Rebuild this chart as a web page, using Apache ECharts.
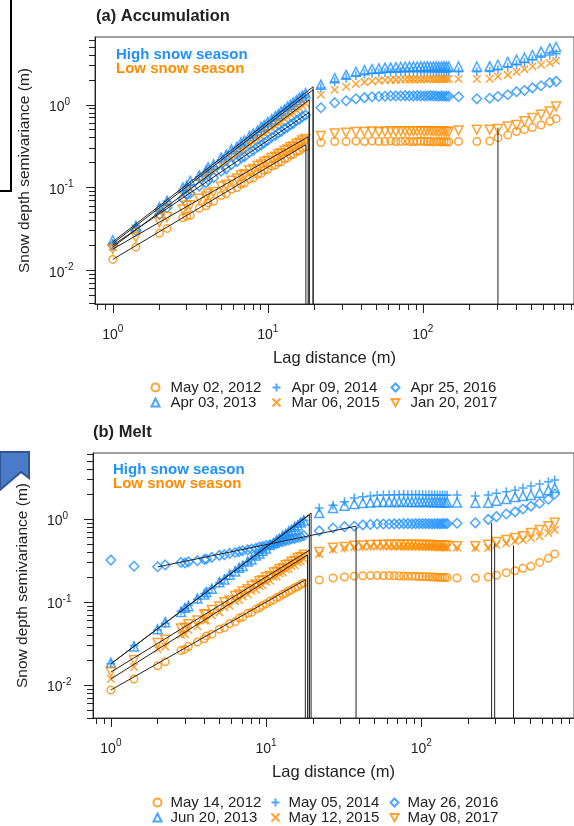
<!DOCTYPE html>
<html>
<head>
<meta charset="utf-8">
<script src="https://cdn.jsdelivr.net/npm/echarts@6/dist/echarts.min.js"></script>
<style>
  html, body { margin: 0; padding: 0; background: #ffffff; }
  #chart { width: 574px; height: 826px; }
</style>
</head>
<body>
<div id="chart"></div>
<script>
// Lag distances (m) shared by every semivariogram
const lags = [1, 1.41, 2, 2.24, 2.83, 3, 3.16, 3.61, 4, 4.12, 4.47, 5, 5.39, 5.83, 6.32, 6.71, 7.07, 7.62, 8.06, 8.6,
  9.06, 9.49, 10, 10.6, 11.2, 11.7, 12.2, 12.8, 13.4, 14, 14.6, 15.3, 16, 16.7, 17.5,
  22, 27, 32, 37, 42, 47, 52, 57, 62, 67, 72, 77, 82, 87, 92, 97, 102, 107, 112, 117, 122, 127, 132, 137, 142, 147,
  170, 223, 270, 305, 353, 402, 452, 509, 579, 659, 724];

// (a) Accumulation - semivariance (m)
const accMay2012 = [0.0135, 0.019, 0.028, 0.032, 0.043, 0.045, 0.046, 0.056, 0.06, 0.065, 0.068, 0.08, 0.084, 0.095, 0.1, 0.11, 0.113, 0.127, 0.13, 0.145,
  0.148, 0.161, 0.166, 0.182, 0.187, 0.202, 0.205, 0.223, 0.228, 0.247, 0.25, 0.272, 0.278, 0.298, 0.31,
  0.35, 0.36, 0.36, 0.365, 0.36, 0.365, 0.36, 0.36, 0.365, 0.36, 0.36, 0.365, 0.36, 0.36, 0.36, 0.365, 0.36, 0.36, 0.36, 0.355, 0.36, 0.36, 0.355, 0.36, 0.355, 0.355,
  0.36, 0.36, 0.365, 0.40, 0.43, 0.475, 0.50, 0.53, 0.57, 0.63, 0.68];
const accApr2013 = [0.023, 0.034, 0.058, 0.069, 0.10, 0.105, 0.12, 0.14, 0.16, 0.175, 0.19, 0.23, 0.25, 0.29, 0.31, 0.35, 0.37, 0.42, 0.45, 0.49,
  0.54, 0.57, 0.62, 0.67, 0.73, 0.77, 0.83, 0.88, 0.95, 1.0, 1.07, 1.14, 1.22, 1.29, 1.38,
  1.75, 2.1, 2.3, 2.5, 2.62, 2.7, 2.75, 2.8, 2.82, 2.85, 2.86, 2.88, 2.9, 2.9, 2.9, 2.92, 2.9, 2.92, 2.9, 2.9, 2.92, 2.9, 2.9, 2.92, 2.9, 2.9,
  2.9, 2.9, 2.92, 3.05, 3.3, 3.5, 3.7, 4.0, 4.4, 4.8, 5.0];
const accApr2014 = [0.021, 0.035, 0.055, 0.068, 0.092, 0.103, 0.108, 0.135, 0.152, 0.163, 0.178, 0.215, 0.235, 0.268, 0.295, 0.327, 0.345, 0.392, 0.42, 0.465,
  0.495, 0.54, 0.57, 0.63, 0.67, 0.73, 0.76, 0.83, 0.87, 0.94, 0.98, 1.07, 1.12, 1.22, 1.28,
  1.6, 1.9, 2.1, 2.25, 2.35, 2.4, 2.42, 2.45, 2.47, 2.48, 2.5, 2.5, 2.5, 2.52, 2.5, 2.52, 2.5, 2.5, 2.52, 2.5, 2.5, 2.5, 2.52, 2.5, 2.5, 2.5,
  2.5, 2.5, 2.52, 2.65, 2.85, 3.05, 3.25, 3.5, 3.75, 4.0, 4.15];
const accMar2015 = [0.019, 0.031, 0.05, 0.06, 0.08, 0.09, 0.094, 0.117, 0.13, 0.14, 0.153, 0.183, 0.2, 0.226, 0.25, 0.276, 0.29, 0.33, 0.35, 0.39,
  0.41, 0.45, 0.47, 0.52, 0.55, 0.6, 0.62, 0.68, 0.71, 0.77, 0.8, 0.87, 0.91, 0.98, 1.04,
  1.32, 1.52, 1.65, 1.78, 1.88, 1.93, 1.96, 1.98, 2.0, 2.0, 2.02, 2.02, 2.03, 2.03, 2.04, 2.03, 2.05, 2.04, 2.05, 2.05, 2.04, 2.05, 2.05, 2.05, 2.04, 2.05,
  2.05, 2.05, 2.06, 2.2, 2.3, 2.5, 2.7, 2.9, 3.05, 3.2, 3.4];
const accApr2016 = [0.020, 0.03, 0.047, 0.057, 0.073, 0.082, 0.085, 0.104, 0.114, 0.123, 0.131, 0.157, 0.168, 0.19, 0.205, 0.227, 0.236, 0.266, 0.28, 0.31,
  0.325, 0.35, 0.37, 0.405, 0.425, 0.46, 0.475, 0.515, 0.535, 0.575, 0.595, 0.645, 0.67, 0.72, 0.75,
  0.92, 1.06, 1.12, 1.18, 1.22, 1.25, 1.26, 1.27, 1.28, 1.28, 1.28, 1.29, 1.28, 1.28, 1.29, 1.28, 1.28, 1.28, 1.29, 1.28, 1.28, 1.27, 1.28, 1.27, 1.27, 1.27,
  1.25, 1.18, 1.2, 1.26, 1.32, 1.44, 1.49, 1.6, 1.7, 1.85, 1.92];
const accJan2017 = [0.018, 0.025, 0.038, 0.044, 0.054, 0.06, 0.061, 0.073, 0.078, 0.084, 0.088, 0.103, 0.108, 0.121, 0.128, 0.14, 0.145, 0.16, 0.167, 0.182,
  0.189, 0.203, 0.21, 0.228, 0.236, 0.253, 0.26, 0.278, 0.287, 0.306, 0.314, 0.336, 0.347, 0.37, 0.385,
  0.42, 0.45, 0.46, 0.47, 0.47, 0.475, 0.47, 0.475, 0.48, 0.475, 0.48, 0.48, 0.475, 0.48, 0.48, 0.48, 0.475, 0.48, 0.48, 0.475, 0.48, 0.475, 0.475, 0.47, 0.475, 0.47,
  0.49, 0.5, 0.5, 0.51, 0.545, 0.57, 0.63, 0.69, 0.76, 0.83, 0.95];

// (b) Melt - semivariance (m)
const meltMay2012 = [0.0087, 0.0118, 0.017, 0.019, 0.026, 0.027, 0.029, 0.033, 0.036, 0.039, 0.041, 0.047, 0.049, 0.055, 0.058, 0.064, 0.066, 0.073, 0.075, 0.082,
  0.085, 0.091, 0.095, 0.102, 0.106, 0.113, 0.116, 0.124, 0.128, 0.136, 0.14, 0.149, 0.154, 0.163, 0.17,
  0.184, 0.195, 0.2, 0.205, 0.207, 0.208, 0.208, 0.207, 0.208, 0.207, 0.206, 0.206, 0.205, 0.205, 0.204, 0.203, 0.203, 0.202, 0.201, 0.2, 0.2, 0.199, 0.198, 0.198, 0.197, 0.197,
  0.195, 0.195, 0.2, 0.21, 0.226, 0.238, 0.255, 0.27, 0.3, 0.336, 0.38];
const meltJun2013 = [0.0185, 0.029, 0.047, 0.057, 0.076, 0.085, 0.089, 0.11, 0.123, 0.132, 0.144, 0.173, 0.187, 0.213, 0.233, 0.259, 0.272, 0.308, 0.325, 0.364,
  0.383, 0.416, 0.44, 0.485, 0.514, 0.556, 0.578, 0.63, 0.658, 0.712, 0.74, 0.805, 0.84, 0.91, 0.96,
  1.18, 1.36, 1.45, 1.52, 1.56, 1.58, 1.6, 1.6, 1.61, 1.6, 1.61, 1.62, 1.61, 1.6, 1.61, 1.6, 1.6, 1.61, 1.6, 1.6, 1.59, 1.6, 1.59, 1.59, 1.58, 1.58,
  1.58, 1.57, 1.57, 1.66, 1.74, 1.84, 1.9, 1.95, 2.07, 2.23, 2.36];
const meltMay2014 = [0.018, 0.03, 0.046, 0.055, 0.078, 0.083, 0.092, 0.108, 0.126, 0.129, 0.147, 0.17, 0.19, 0.21, 0.238, 0.255, 0.278, 0.303, 0.332, 0.358,
  0.39, 0.41, 0.448, 0.478, 0.522, 0.548, 0.588, 0.62, 0.668, 0.7, 0.752, 0.795, 0.855, 0.9, 0.97,
  1.36, 1.47, 1.62, 1.79, 1.86, 1.9, 1.93, 1.95, 1.95, 1.96, 1.96, 1.97, 1.96, 1.96, 1.97, 1.96, 1.96, 1.95, 1.96, 1.95, 1.95, 1.95, 1.94, 1.95, 1.94, 1.94,
  1.95, 1.9, 1.95, 2.05, 2.13, 2.23, 2.36, 2.5, 2.64, 2.81, 2.95];
const meltMay2015 = [0.0118, 0.0165, 0.027, 0.029, 0.04, 0.041, 0.046, 0.051, 0.06, 0.06, 0.069, 0.075, 0.086, 0.09, 0.103, 0.106, 0.117, 0.123, 0.137, 0.141,
  0.156, 0.159, 0.175, 0.18, 0.2, 0.203, 0.221, 0.226, 0.247, 0.25, 0.272, 0.278, 0.302, 0.308, 0.33,
  0.38, 0.43, 0.45, 0.46, 0.465, 0.47, 0.47, 0.468, 0.47, 0.465, 0.468, 0.465, 0.466, 0.465, 0.463, 0.465, 0.462, 0.462, 0.46, 0.46, 0.458, 0.458, 0.455, 0.456, 0.455, 0.455,
  0.455, 0.45, 0.45, 0.49, 0.51, 0.54, 0.56, 0.59, 0.62, 0.68, 0.74];
const meltMay2016 = [0.32, 0.27, 0.266, 0.28, 0.3, 0.295, 0.305, 0.315, 0.325, 0.33, 0.345, 0.365, 0.372, 0.385, 0.395, 0.405, 0.415, 0.425, 0.435, 0.445,
  0.46, 0.465, 0.48, 0.49, 0.505, 0.51, 0.525, 0.535, 0.55, 0.56, 0.575, 0.585, 0.6, 0.61, 0.63,
  0.72, 0.78, 0.81, 0.82, 0.85, 0.86, 0.87, 0.87, 0.87, 0.875, 0.875, 0.88, 0.88, 0.875, 0.88, 0.88, 0.88, 0.88, 0.88, 0.875, 0.88, 0.88, 0.875, 0.88, 0.88, 0.88,
  0.89, 0.9, 0.99, 1.07, 1.15, 1.22, 1.32, 1.43, 1.55, 1.73, 2.0];
const meltMay2017 = [0.0143, 0.02, 0.032, 0.035, 0.048, 0.049, 0.054, 0.06, 0.071, 0.07, 0.08, 0.088, 0.099, 0.104, 0.118, 0.123, 0.134, 0.142, 0.156, 0.163,
  0.178, 0.183, 0.199, 0.206, 0.227, 0.231, 0.249, 0.256, 0.277, 0.284, 0.305, 0.315, 0.338, 0.348, 0.372,
  0.40, 0.45, 0.46, 0.475, 0.48, 0.485, 0.488, 0.49, 0.49, 0.49, 0.492, 0.49, 0.49, 0.49, 0.488, 0.49, 0.488, 0.486, 0.486, 0.485, 0.484, 0.483, 0.482, 0.48, 0.48, 0.478,
  0.47, 0.47, 0.49, 0.53, 0.56, 0.59, 0.62, 0.68, 0.74, 0.82, 0.9];

// Power-law fits: [first lag, gamma at first lag, range, gamma at range]
const accFits = [[1, 0.0135, 17.6, 0.33], [1, 0.022, 19.6, 1.65], [1, 0.021, 19.6, 1.52],
  [1, 0.019, 18.5, 1.15], [1, 0.020, 18.5, 0.81], [1, 0.018, 18.2, 0.41]];
const meltFits = [[1, 0.0087, 17.9, 0.185], [1, 0.018, 19.5, 1.18], [1, 0.018, 19.0, 1.12],
  [1, 0.0118, 18.5, 0.37], [2, 0.265, 38, 0.82], [1, 0.0143, 19.0, 0.42]];
// Second-structure ranges: [range, gamma]
const accRanges2 = [[305, 0.53]];
const meltRanges2 = [[284, 0.9], [297, 0.51], [393, 0.48]];

// Axis limits and tick positions
const accX = [0.768, 944], accY = [0.0039, 6.6];
const meltX = [0.767, 964], meltY = [0.0040, 6.25];
const xMinorTicks = [0.8, 0.9, 2, 3, 4, 5, 6, 7, 8, 9, 20, 30, 40, 50, 60, 70, 80, 90, 200, 300, 400, 500, 600, 700, 800, 900];
const xMajorTicks = [1, 10, 100];
const yMinorTicks = [0.004, 0.005, 0.006, 0.007, 0.008, 0.009, 0.02, 0.03, 0.04, 0.05, 0.06, 0.07, 0.08, 0.09,
  0.2, 0.3, 0.4, 0.5, 0.6, 0.7, 0.8, 0.9, 2, 3, 4, 5, 6];
const yMajorTicks = [0.01, 0.1, 1];

const accNames = ['May 02, 2012', 'Apr 03, 2013', 'Apr 09, 2014', 'Mar 06, 2015', 'Apr 25, 2016', 'Jan 20, 2017'];
const meltNames = ['May 14, 2012', 'Jun 20, 2013', 'May 05, 2014', 'May 12, 2015', 'May 26, 2016', 'May 08, 2017'];

const BLUE = '#1E90FF', ORANGE = '#FF8C00', INK = '#222222';
const FONT = '"Liberation Sans", Arial, Helvetica, sans-serif';

// Marker per survey year: [symbol, size, colour]
const markers = [
  ['circle', 7.5, ORANGE],
  ['triangle', 9, BLUE],
  ['path://M5,0 L5,10 M0,5 L10,5', 9, BLUE],
  ['path://M0,0 L10,10 M10,0 L0,10', 7.5, ORANGE],
  ['diamond', 9.5, BLUE],
  ['path://M0,0 L10,0 L5,9 Z', 9, ORANGE]
];

function powLabel(v) {
  const e = Math.round(Math.log10(v));
  return '{b|10}{s|' + e + '}';
}
const labelRich = {
  b: { fontSize: 14, fontFamily: FONT, color: INK, padding: [5, 0, 0, 0] },
  s: { fontSize: 10, fontFamily: FONT, color: INK, padding: [0, 0, 6, 0] }
};

function makeXAxes(grid, ext) {
  return [
    { type: 'log', gridIndex: grid, min: ext[0], max: ext[1], position: 'bottom',
      axisLine: { show: true, onZero: false, lineStyle: { color: INK, width: 1 } },
      axisTick: { show: true, length: 6, customValues: xMinorTicks, lineStyle: { color: INK } },
      axisLabel: { show: false }, splitLine: { show: false } },
    { type: 'log', gridIndex: grid, min: ext[0], max: ext[1], position: 'bottom',
      axisLine: { show: false },
      axisTick: { show: true, length: 9, customValues: xMajorTicks, lineStyle: { color: INK } },
      axisLabel: { show: true, customValues: xMajorTicks, margin: 19, formatter: powLabel, rich: labelRich },
      splitLine: { show: false },
      name: 'Lag distance (m)', nameLocation: 'middle', nameGap: 46,
      nameTextStyle: { fontSize: 16.5, fontFamily: FONT, color: INK } }
  ];
}
function makeYAxes(grid, ext) {
  return [
    { type: 'log', gridIndex: grid, min: ext[0], max: ext[1], position: 'left',
      axisLine: { show: true, onZero: false, lineStyle: { color: INK, width: 1 } },
      axisTick: { show: true, length: 6, customValues: yMinorTicks, lineStyle: { color: INK } },
      axisLabel: { show: false }, splitLine: { show: false } },
    { type: 'log', gridIndex: grid, min: ext[0], max: ext[1], position: 'left',
      axisLine: { show: false },
      axisTick: { show: true, length: 9, customValues: yMajorTicks, lineStyle: { color: INK } },
      axisLabel: { show: true, customValues: yMajorTicks, margin: 46, align: 'left', formatter: powLabel, rich: labelRich },
      splitLine: { show: false },
      name: 'Snow depth semivariance (m)', nameLocation: 'middle', nameGap: 62, nameRotate: 90,
      nameTextStyle: { fontSize: 15.5, fontFamily: FONT, color: INK } }
  ];
}

function pointSeries(name, values, k, axisBase) {
  const m = markers[k];
  return {
    type: 'scatter', name: name, xAxisIndex: axisBase, yAxisIndex: axisBase,
    data: lags.map((x, i) => [x, values[i]]).filter(d => d[1] != null),
    symbol: m[0], symbolSize: m[1],
    itemStyle: { color: 'none', borderColor: m[2], borderWidth: 1.5 },
    emphasis: { disabled: true }, silent: true, z: 2, animation: false
  };
}
function fitSeries(fit, yMin, axisBase) {
  return {
    type: 'line', xAxisIndex: axisBase, yAxisIndex: axisBase,
    data: [[fit[0], fit[1]], [fit[2], fit[3]], [fit[2], yMin]],
    symbol: 'none', lineStyle: { color: INK, width: 1 }, silent: true, z: 3, animation: false
  };
}
function rangeSeries(r, yMin, axisBase) {
  return {
    type: 'line', xAxisIndex: axisBase, yAxisIndex: axisBase,
    data: [[r[0], r[1]], [r[0], yMin]],
    symbol: 'none', lineStyle: { color: INK, width: 1 }, silent: true, z: 3, animation: false
  };
}

const accValues = [accMay2012, accApr2013, accApr2014, accMar2015, accApr2016, accJan2017];
const meltValues = [meltMay2012, meltJun2013, meltMay2014, meltMay2015, meltMay2016, meltMay2017];

const series = [];
accValues.forEach((v, k) => series.push(pointSeries(accNames[k], v, k, 0)));
meltValues.forEach((v, k) => series.push(pointSeries(meltNames[k], v, k, 2)));
accFits.forEach(f => series.push(fitSeries(f, accY[0], 0)));
meltFits.forEach(f => series.push(fitSeries(f, meltY[0], 2)));
accRanges2.forEach(r => series.push(rangeSeries(r, accY[0], 0)));
meltRanges2.forEach(r => series.push(rangeSeries(r, meltY[0], 2)));

function legendColumn(names, left, top, pad) {
  return {
    orient: 'vertical', left: left, top: top, data: names, padding: 0,
    itemWidth: 8, itemHeight: 8, itemGap: 0, selectedMode: false,
    textStyle: { fontSize: 15, fontFamily: FONT, color: INK, padding: [0, 0, 0, pad], lineHeight: 15 }
  };
}

function panelText(x, y, text, size, color) {
  return { type: 'text', x: x, y: y, silent: true,
    style: { text: text, fontSize: size, fontWeight: 'bold', fontFamily: FONT, fill: color,
      textAlign: 'left', textVerticalAlign: 'middle' } };
}

const option = {
  backgroundColor: '#ffffff',
  animation: false,
  grid: [
    { left: 95, top: 37, width: 485, height: 267, show: true, borderColor: '#444', borderWidth: 1, containLabel: false },
    { left: 93, top: 453, width: 485, height: 265, show: true, borderColor: '#444', borderWidth: 1, containLabel: false }
  ],
  xAxis: makeXAxes(0, accX).concat(makeXAxes(1, meltX)),
  yAxis: makeYAxes(0, accY).concat(makeYAxes(1, meltY)),
  legend: [
    legendColumn([accNames[0], accNames[1]], 149, 380, 6),
    legendColumn([accNames[2], accNames[3]], 270, 380, 6),
    legendColumn([accNames[4], accNames[5]], 389, 380, 6),
    legendColumn([meltNames[0], meltNames[1]], 151, 795, 4),
    legendColumn([meltNames[2], meltNames[3]], 269, 795, 4),
    legendColumn([meltNames[4], meltNames[5]], 388, 795, 4)
  ],
  graphic: [
    panelText(96, 16, '(a) Accumulation', 16.5, INK),
    panelText(116, 55, 'High snow season', 15, BLUE),
    panelText(116, 69, 'Low snow season', 15, ORANGE),
    panelText(93, 432, '(b) Melt', 16.5, INK),
    panelText(113, 470, 'High snow season', 15, BLUE),
    panelText(113, 484, 'Low snow season', 15, ORANGE),
    // frame edge at the top-left corner
    { type: 'polyline', silent: true, z: 100,
      shape: { points: [[11, 0], [11, 191], [0, 191]] },
      style: { stroke: '#000000', lineWidth: 2, fill: null } },
    // blue callout arrow at the left edge
    { type: 'polygon', silent: true, z: 100,
      shape: { points: [[0, 452], [29, 452], [29, 478], [21, 472], [0, 490]] },
      style: { fill: '#4A7BC8', stroke: '#2F5597', lineWidth: 2 } }
  ],
  series: series
};

const chart = echarts.init(document.getElementById('chart'), null, { renderer: 'canvas' });
chart.setOption(option);
</script>
</body>
</html>
